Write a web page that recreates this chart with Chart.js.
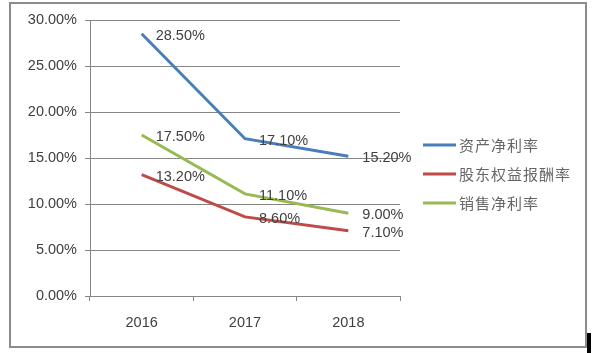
<!DOCTYPE html>
<html><head><meta charset="utf-8">
<script src="https://cdn.jsdelivr.net/npm/chart.js@4/dist/chart.umd.min.js"></script>
<style>
html,body{margin:0;padding:0;background:#fff;}
#wrap{position:relative;width:598px;height:353px;}
#mark{position:absolute;left:587px;top:333px;width:4px;height:20px;background:#000;}
</style></head>
<body><div id="wrap"><canvas id="c" width="598" height="353"></canvas><div id="mark"></div></div>
<script>
const categories = ['2016','2017','2018'];
const seriesNames = ['资产净利率','股东权益报酬率','销售净利率'];
const assetReturn = [28.5, 17.1, 15.2];
const equityReturn = [13.2, 8.6, 7.1];
const salesMargin = [17.5, 11.1, 9.0];
const yTicks = [0,5,10,15,20,25,30];
const colors = ['#4a7ebb','#be4b48','#98b954'];

const FONT = "'Liberation Sans', Arial, sans-serif";

const decor = {
  id:'decor',
  beforeDraw(chart){
    const ctx = chart.ctx;
    ctx.save();
    ctx.strokeStyle = '#8c8c8c';
    ctx.lineWidth = 2;
    ctx.strokeRect(10,3,576,344);
    ctx.restore();
  },
  afterDatasetsDraw(chart){
    const ctx = chart.ctx;
    ctx.save();
    ctx.font = '14.5px ' + FONT;
    ctx.fillStyle = '#404040';
    ctx.textAlign = 'left';
    ctx.textBaseline = 'middle';
    chart.data.datasets.forEach((ds,i)=>{
      const meta = chart.getDatasetMeta(i);
      meta.data.forEach((pt,j)=>{
        ctx.fillText(ds.data[j].toFixed(2)+'%', pt.x+14, pt.y+2);
      });
    });
    // legend
    const lx = 423, ly = 145, gap = 29;
    chart.data.datasets.forEach((ds,i)=>{
      const y = ly + i*gap;
      ctx.strokeStyle = ds.borderColor;
      ctx.lineWidth = 3;
      ctx.beginPath(); ctx.moveTo(lx,y); ctx.lineTo(lx+33,y); ctx.stroke();
      ctx.fillStyle = '#666666';
      ctx.font = "15px 'Noto Sans CJK SC', sans-serif";
      ctx.letterSpacing = '1px';
      ctx.fillText(ds.label, lx+36, y);
      ctx.letterSpacing = '0px';
    });
    ctx.restore();
  }
};

new Chart(document.getElementById('c'), {
  type:'line',
  data:{
    labels:categories,
    datasets:[assetReturn,equityReturn,salesMargin].map((d,i)=>({
      label:seriesNames[i], data:d, borderColor:colors[i], backgroundColor:colors[i],
      borderWidth:3, pointRadius:0, tension:0, fill:false
    }))
  },
  options:{
    responsive:false, animation:false,
    layout:{padding:{left:0,right:198,top:20,bottom:17}},
    plugins:{legend:{display:false},tooltip:{enabled:false}},
    scales:{
      x:{
        offset:true,
        afterFit(s){ s.height = 40; },
        grid:{offset:true, drawOnChartArea:false, drawTicks:true, tickLength:5, color:'#868686'},
        border:{display:true,color:'#868686',width:1},
        ticks:{color:'#404040', font:{family:FONT,size:14.5}, padding:13}
      },
      y:{
        min:0,max:30,
        afterFit(s){ s.width = 90; },
        afterBuildTicks(s){ s.ticks = yTicks.map(v=>({value:v})); },
        grid:{color:'#868686', tickLength:5, drawTicks:true},
        border:{display:true,color:'#868686',width:1},
        ticks:{color:'#404040', font:{family:FONT,size:14.5}, padding:8,
          callback:v=>v.toFixed(2)+'%'}
      }
    }
  },
  plugins:[decor]
});
</script></body></html>
